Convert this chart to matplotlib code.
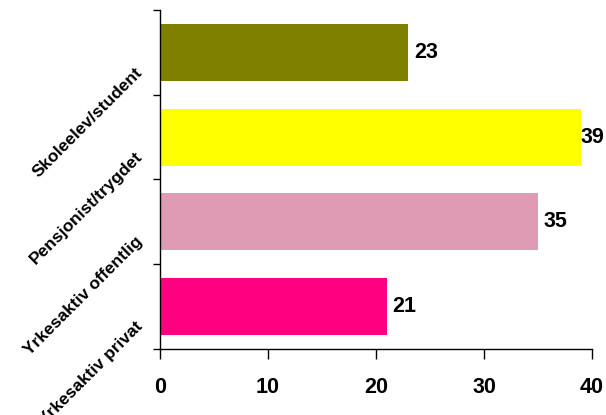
import matplotlib
matplotlib.use("Agg")
import matplotlib.pyplot as plt
import matplotlib.transforms as mtransforms
import numpy as np

categories = ["Yrkesaktiv privat", "Yrkesaktiv offentlig", "Pensjonist/trygdet", "Skoleelev/student"]
values = [21, 35, 39, 23]
colors = ["#FF0080", "#DF9AB4", "#FFFF00", "#808000"]
xticks = [0, 10, 20, 30, 40]

plt.rcParams['font.family'] = ['Liberation Sans', 'DejaVu Sans']

fig = plt.figure(figsize=(6.06, 4.15), dpi=100)
ax = fig.add_axes([160/606, 1 - 349/415, (592-160)/606, (349-10)/415])

y = np.arange(len(categories))
ax.barh(y, values, height=0.67, color=colors, edgecolor='none')
ax.set_xlim(0, 40)
ax.set_ylim(-0.5, len(categories) - 0.5)

for s in ['top', 'right']:
    ax.spines[s].set_visible(False)
for s in ['left', 'bottom']:
    ax.spines[s].set_linewidth(1.0)
    ax.spines[s].set_color('black')

ax.set_xticks(xticks)
ax.set_xticklabels([str(t) for t in xticks], fontsize=15.5, fontweight='bold')
ax.tick_params(axis='x', direction='out', length=7, width=1, pad=13)

ax.set_yticks(np.arange(-0.5, len(categories), 1.0))
ax.set_yticklabels([])
ax.tick_params(axis='y', which='major', direction='out', length=5, width=1)
ax.set_yticks(y, minor=True)
ax.set_yticklabels(categories, minor=True, rotation=45, ha='right', va='top',
                   rotation_mode='anchor', fontsize=12.5, fontweight='bold')
ax.tick_params(axis='y', which='minor', length=0, pad=18)
offset = mtransforms.ScaledTranslation(0, -12/100, fig.dpi_scale_trans)
for lab in ax.get_yticklabels(minor=True):
    lab.set_transform(lab.get_transform() + offset)

texts = []
for yi, v in zip(y, values):
    t = ax.annotate(str(v), xy=(v, yi), xytext=(4, 0), textcoords='offset points',
                    ha='left', va='center', fontsize=15.5, fontweight='bold')
    texts.append(t)

fig.canvas.draw()
r = fig.canvas.get_renderer()
W = fig.bbox.width
for t in texts:
    bb = t.get_window_extent(r)
    if bb.x1 > W - 2:
        shift = (bb.x1 - (W - 2)) * 72 / fig.dpi
        xo, yo = t.xyann
        t.xyann = (xo - shift, yo)

fig.savefig("out.png", dpi=100)
